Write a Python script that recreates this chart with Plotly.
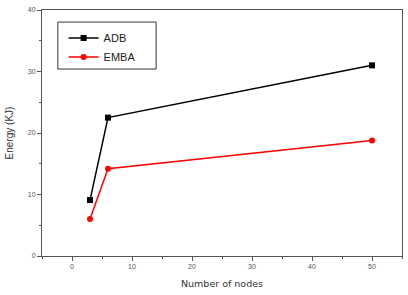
import plotly.graph_objects as go

nodes = [3, 6, 50]
adb = [9.1, 22.5, 31.0]
emba = [6.0, 14.2, 18.8]
x_ticks = [0, 10, 20, 30, 40, 50]
y_ticks = [0, 10, 20, 30, 40]

fig = go.Figure()
fig.add_trace(go.Scatter(x=nodes, y=adb, name="ADB", mode="lines+markers",
                         line=dict(color="black", width=1.5),
                         marker=dict(symbol="square", size=6, color="black")))
fig.add_trace(go.Scatter(x=nodes, y=emba, name="EMBA", mode="lines+markers",
                         line=dict(color="#ff0000", width=1.5),
                         marker=dict(symbol="circle", size=6, color="#ff0000")))

axis_common = dict(showgrid=False, zeroline=False, showline=True, linecolor="#555555",
                   linewidth=1, mirror=True, ticks="outside", ticklen=4, tickcolor="#555555",
                   tickfont=dict(family="Liberation Sans, Arial", size=7, color="#555555"))

fig.update_xaxes(range=[-5, 55], tickvals=x_ticks,
                 minor=dict(dtick=5, tick0=0, ticks="outside", ticklen=2, tickcolor="#555555"),
                 title=dict(text="Number of nodes", standoff=10,
                            font=dict(family="DejaVu Sans, Verdana", size=9.5, color="#333333")),
                 **axis_common)
fig.update_yaxes(range=[0, 40], tickvals=y_ticks,
                 minor=dict(dtick=5, tick0=0, ticks="outside", ticklen=2, tickcolor="#555555"),
                 title=dict(text="Energy (KJ)", standoff=12,
                            font=dict(family="Liberation Sans, Arial", size=10, color="#333333")),
                 **axis_common)

fig.add_shape(type="rect", xref="paper", yref="paper",
              x0=0.044, x1=0.317, y0=0.76, y1=0.951,
              line=dict(color="#333333", width=1), fillcolor="rgba(0,0,0,0)")

fig.update_layout(
    width=408, height=295,
    margin=dict(l=42, r=6, t=10, b=39),
    paper_bgcolor="white", plot_bgcolor="white",
    legend=dict(x=0.06, y=0.945, xanchor="left", yanchor="top",
                borderwidth=0, bgcolor="rgba(0,0,0,0)",
                font=dict(family="Liberation Sans, Arial", size=11, color="#222222"),
                tracegroupgap=0, itemwidth=30),
    showlegend=True,
)

fig.write_html("out.html")
